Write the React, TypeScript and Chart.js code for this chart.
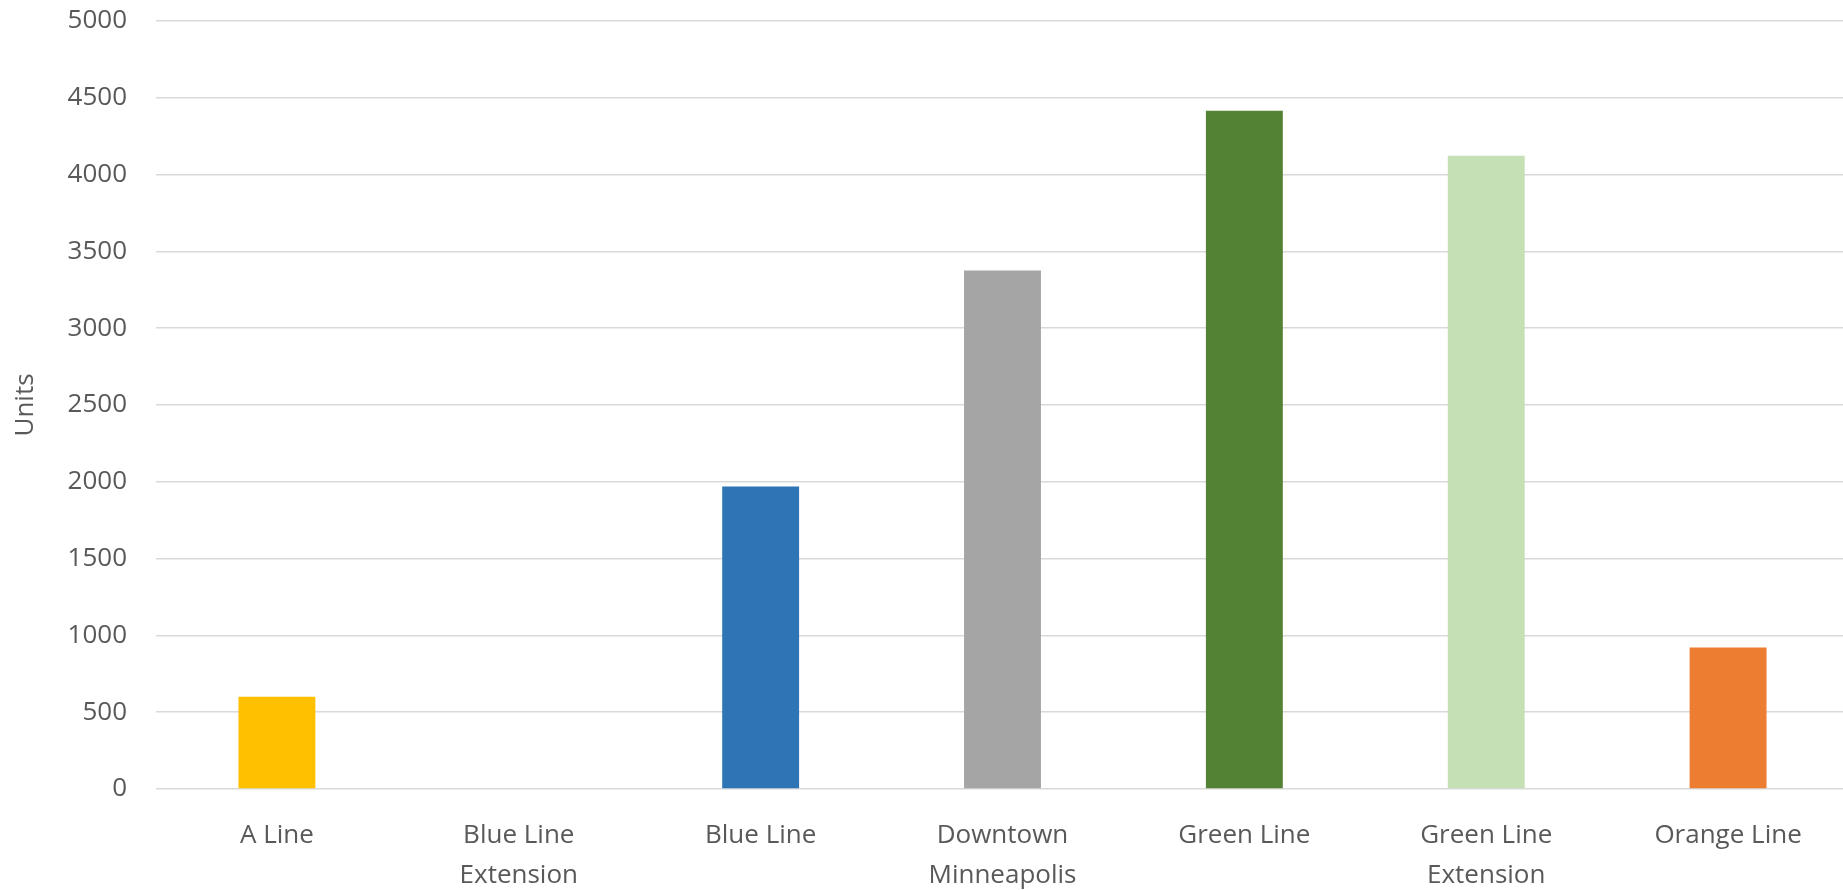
import React, { useEffect, useRef } from "react";
import { Chart, registerables } from "chart.js";

Chart.register(...registerables);

const categories: (string | string[])[] = [
  "A Line",
  ["Blue Line", "Extension"],
  "Blue Line",
  ["Downtown", "Minneapolis"],
  "Green Line",
  ["Green Line", "Extension"],
  "Orange Line",
];
const unitValues = [600, 0, 1970, 3375, 4415, 4122, 922];
const barColors = ["#FFC000", "#5B9BD5", "#2E75B6", "#A5A5A5", "#548235", "#C5E0B4", "#ED7D31"];
const yTicksMin = 0;
const yTicksMax = 5000;
const yTickStep = 500;
const yTitle = "Units";

export default function App() {
  const ref = useRef<HTMLCanvasElement | null>(null);
  useEffect(() => {
    if (!ref.current) return;
    const font = "'Open Sans', 'Noto Sans', sans-serif";
    const chart = new Chart(ref.current, {
      type: "bar",
      data: {
        labels: categories,
        datasets: [
          {
            data: unitValues,
            backgroundColor: barColors,
            borderWidth: 0,
            barPercentage: 0.318,
            categoryPercentage: 1,
          },
        ],
      },
      options: {
        animation: false,
        responsive: false,
        devicePixelRatio: 1,
        layout: { padding: { top: 21, right: 1, left: 0, bottom: 0 } },
        plugins: { legend: { display: false }, tooltip: { enabled: false } },
        scales: {
          x: {
            grid: { display: false, drawTicks: false },
            border: { display: false },
            ticks: {
              color: "#595959",
              font: { family: font, size: 26, lineHeight: 1.55 },
              padding: 26,
              maxRotation: 0,
              autoSkip: false,
            },
            afterFit: (s: any) => {
              s.height = 101;
              s.paddingLeft = 0;
              s.paddingRight = 0;
            },
          },
          y: {
            min: yTicksMin,
            max: yTicksMax,
            grid: { color: "#d9d9d9", lineWidth: 1.5, drawTicks: false },
            border: { display: false },
            ticks: {
              stepSize: yTickStep,
              color: "#595959",
              font: { family: font, size: 26 },
              padding: 29,
              callback: (v: any) => String(v),
            },
            title: {
              display: true,
              text: yTitle,
              color: "#595959",
              font: { family: font, size: 26 },
              padding: { top: 10, bottom: 0 },
            },
            afterFit: (s: any) => {
              s.width = 156;
              s.paddingTop = 0;
              s.paddingBottom = 0;
            },
          },
        },
      },
    });
    return () => chart.destroy();
  }, []);
  return (
    <div
      style={{
        position: "fixed",
        left: 0,
        top: 0,
        width: 1843,
        height: 890,
        overflow: "hidden",
        background: "#ffffff",
      }}
    >
      <canvas ref={ref} width={1850} height={890} style={{ width: 1850, height: 890, display: "block" }} />
    </div>
  );
}
